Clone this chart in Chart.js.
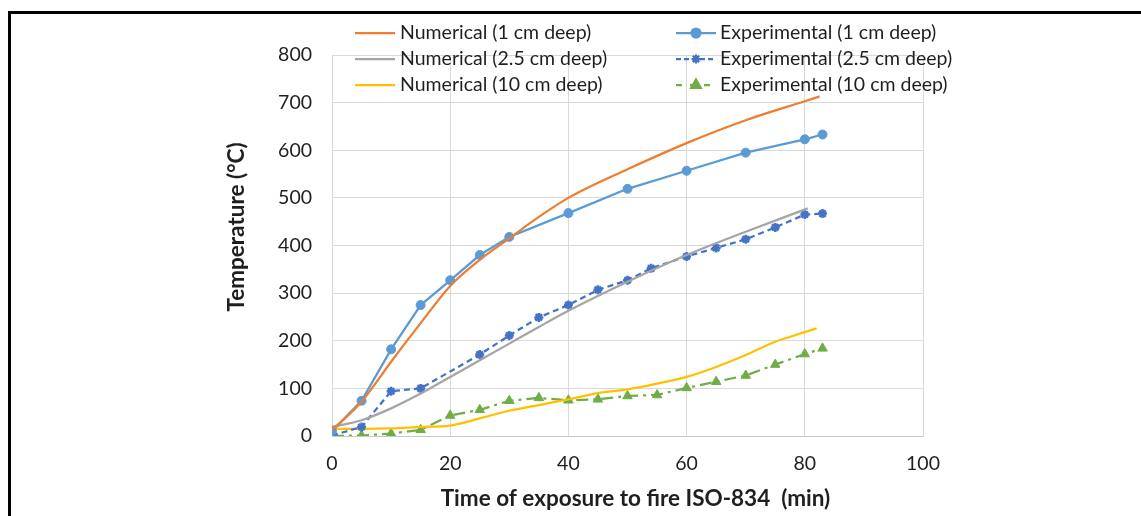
<!DOCTYPE html>
<html>
<head>
<meta charset="utf-8">
<script src="https://cdn.jsdelivr.net/npm/chart.js@4"></script>
<style>
    html, body { margin: 0; padding: 0; background: #fff; }
    #wrap { position: relative; width: 1141px; height: 516px; overflow: hidden; }
    #frame { position: absolute; left: 8px; top: 11px; width: 1200px; height: 600px;
             border-top: 3px solid #000; border-left: 3px solid #000; pointer-events: none; }
    canvas { position: absolute; left: 0; top: 0; }
</style>
</head>
<body>
<div id="wrap">
    <canvas id="chart" width="1141" height="516"></canvas>
    <div id="frame"></div>
</div>
<script>
// Values: time (min) and temperature (°C)
const numTime1 = [0, 5, 10, 15, 20, 25, 30, 35, 40, 50, 60, 70, 80, 82.5];
const numTemp1 = [12, 72, 156, 237, 315, 370, 415, 460, 500, 560, 615, 663, 703, 713];

const expTime1 = [0, 5, 10, 15, 20, 25, 30, 40, 50, 60, 70, 80, 83];
const expTemp1 = [10, 74, 182, 275, 327, 380, 418, 468, 519, 557, 595, 623, 633];

const numTime25 = [0, 5, 10, 15, 20, 25, 30, 35, 40, 50, 60, 70, 80.5];
const numTemp25 = [19, 33, 58, 89, 124, 159, 194, 229, 263, 324, 380, 429, 478];

const expTime25 = [0, 5, 10, 15, 25, 30, 35, 40, 45, 50, 54, 60, 65, 70, 75, 80, 83];
const expTemp25 = [1, 19, 94, 100, 171, 211, 249, 275, 307, 327, 352, 377, 395, 413, 438, 465, 467];

const numTime10 = [0, 5, 10, 15, 20, 25, 30, 35, 40, 45, 50, 55, 60, 65, 70, 75, 80, 82];
const numTemp10 = [15, 15, 16, 19, 22, 37, 53, 65, 77, 90, 98, 110, 124, 145, 170, 198, 218, 226];

const expTime10 = [0, 5, 10, 15, 20, 25, 30, 35, 40, 45, 50, 55, 60, 65, 70, 75, 80, 83];
const expTemp10 = [0, 1, 5, 13, 43, 55, 74, 80, 75, 77, 84, 86, 101, 114, 127, 150, 172, 184];

const seriesLabels = [
    'Numerical (1 cm deep)', 'Experimental (1 cm deep)',
    'Numerical (2.5 cm deep)', 'Experimental (2.5 cm deep)',
    'Numerical (10 cm deep)', 'Experimental (10 cm deep)'
];
const xTitle = 'Time of exposure to fire ISO-834  (min)';
const yTitle = 'Temperature (°C)';

const toPoints = (xs, ys) => xs.map((x, i) => ({ x: x, y: ys[i] }));

const FONT = 'Lato, "Open Sans", sans-serif';
const TEXT = '#1f1f1f';

function numerical(label, xs, ys, color) {
    return {
        label: label,
        data: toPoints(xs, ys),
        borderColor: color,
        backgroundColor: color,
        borderWidth: 2.25,
        borderDash: [],
        pointRadius: 0,
        cubicInterpolationMode: 'monotone',
        fill: false
    };
}

function experimental(label, xs, ys, color, style, radius, dash, legendDash) {
    return {
        label: label,
        data: toPoints(xs, ys),
        borderColor: color,
        backgroundColor: color,
        borderWidth: 2.25,
        borderDash: dash,
        legendDash: legendDash,
        pointStyle: style,
        pointRadius: radius,
        pointBorderWidth: style === 'star' ? 2.5 : 1,
        pointBackgroundColor: color,
        pointBorderColor: color,
        tension: 0,
        fill: false
    };
}

// Legend and axis titles drawn on the canvas so they sit where the original puts them
const overlay = {
    id: 'overlay',
    afterDraw(chart) {
        const ctx = chart.ctx;
        const area = chart.chartArea;
        ctx.save();

        // legend: 2 columns x 3 rows over the top of the plot
        const colLine = [355, 676];
        const colText = [400, 720];
        const rowY = [33, 59, 85];
        const lineLen = 40;
        ctx.font = '19.5px ' + FONT;
        ctx.textBaseline = 'middle';
        ctx.textAlign = 'left';
        chart.data.datasets.forEach((ds, i) => {
            const col = i % 2, row = Math.floor(i / 2);
            const y = rowY[row];
            ctx.strokeStyle = ds.borderColor;
            ctx.lineWidth = ds.borderWidth;
            ctx.setLineDash(ds.legendDash || []);
            ctx.beginPath();
            ctx.moveTo(colLine[col], y);
            ctx.lineTo(colLine[col] + lineLen, y);
            ctx.stroke();
            ctx.setLineDash([]);
            if (ds.pointRadius) {
                ctx.fillStyle = ds.pointBackgroundColor;
                ctx.strokeStyle = ds.pointBorderColor;
                Chart.helpers.drawPoint(ctx, {
                    pointStyle: ds.pointStyle,
                    radius: ds.pointRadius,
                    borderWidth: ds.pointBorderWidth,
                    rotation: 0
                }, colLine[col] + lineLen / 2, y);
            }
            ctx.fillStyle = TEXT;
            ctx.fillText(ds.label, colText[col], y);
        });

        // axis titles
        ctx.font = 'bold 22.5px ' + FONT;
        ctx.fillStyle = TEXT;
        ctx.textAlign = 'center';
        ctx.fillText(xTitle, (area.left + area.right) / 2 + 8, 499);
        ctx.translate(237, 227);
        ctx.rotate(-Math.PI / 2);
        ctx.fillText(yTitle, 0, 0);
        ctx.restore();
    }
};

const ctx = document.getElementById('chart').getContext('2d');
const chart = new Chart(ctx, {
    type: 'line',
    data: {
        datasets: [
            numerical(seriesLabels[0], numTime1, numTemp1, '#ED7D31'),
            experimental(seriesLabels[1], expTime1, expTemp1, '#5B9BD5', 'circle', 4.5, [], []),
            numerical(seriesLabels[2], numTime25, numTemp25, '#A5A5A5'),
            experimental(seriesLabels[3], expTime25, expTemp25, '#4472C4', 'star', 4.5, [6, 4], [5, 3]),
            numerical(seriesLabels[4], numTime10, numTemp10, '#FFC000'),
            experimental(seriesLabels[5], expTime10, expTemp10, '#70AD47', 'triangle', 5.5, [12, 5, 3, 5], [6, 8])
        ]
    },
    options: {
        responsive: false,
        animation: false,
        events: [],
        layout: { padding: { left: 0, top: 55, right: 218, bottom: 0 } },
        plugins: {
            legend: { display: false },
            tooltip: { enabled: false }
        },
        scales: {
            x: {
                type: 'linear',
                min: 0,
                max: 100,
                afterFit: (s) => { s.height = 80; },
                ticks: {
                    stepSize: 20,
                    padding: 16,
                    color: TEXT,
                    font: { family: FONT, size: 19.5 }
                },
                grid: { color: '#D9D9D9', lineWidth: 1, drawTicks: false },
                border: { color: '#C9C9C9', width: 1 }
            },
            y: {
                min: 0,
                max: 800,
                afterFit: (s) => { s.width = 332; },
                ticks: {
                    stepSize: 100,
                    padding: 20,
                    color: TEXT,
                    font: { family: FONT, size: 19.5 }
                },
                grid: { color: '#D9D9D9', lineWidth: 1, drawTicks: false },
                border: { color: '#D9D9D9', width: 1 }
            }
        }
    },
    plugins: [overlay]
});
</script>
</body>
</html>
